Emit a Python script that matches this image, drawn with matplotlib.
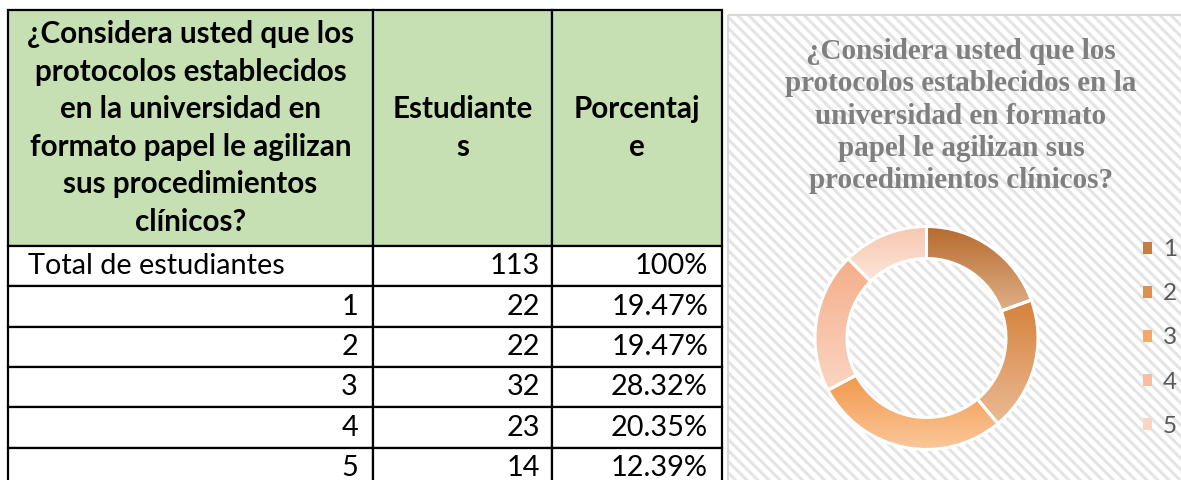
import matplotlib
matplotlib.use("Agg")
import matplotlib.pyplot as plt
import numpy as np
from matplotlib.patches import Rectangle, Patch
from matplotlib.colors import LinearSegmentedColormap

# ---------------- data ----------------
question = ("¿Considera usted que los\nprotocolos establecidos\nen la universidad en\n"
            "formato papel le agilizan\nsus procedimientos\nclínicos?")
col_headers = ["Estudiante\ns", "Porcentaj\ne"]
total_label = "Total de estudiantes"
total_students = 113
categories = ["1", "2", "3", "4", "5"]
students = [22, 22, 32, 23, 14]
chart_title = ("¿Considera usted que los\nprotocolos establecidos en la\n"
               "universidad en formato\npapel le agilizan sus\nprocedimientos clínicos?")
# gradient colours of each ring segment (top -> bottom)
seg_top = ["#b56a2e", "#d6813b", "#f2984a", "#f5ae8a", "#f7c7b0"]
seg_bot = ["#dfb088", "#e9bb94", "#fac79b", "#fad5c3", "#fce5da"]
legend_cols = ["#c37d45", "#dc9052", "#f5a966", "#f7bea3", "#f9d5c4"]

plt.rcParams["hatch.linewidth"] = 2.2

W, H = 1181, 480
fig = plt.figure(figsize=(W / 100, H / 100), dpi=100)
fig.patch.set_facecolor("white")

ax0 = fig.add_axes([0, 0, 1, 1])
ax0.set_xlim(0, W)
ax0.set_ylim(H, 0)
ax0.axis("off")

# ---------------- table ----------------
body_font = "Lato"
cell_text = [[total_label, str(total_students), "100%"]]
for c, s in zip(categories, students):
    cell_text.append([c, str(s), f"{100 * s / total_students:.2f}%"])

col_w = [365, 179, 170]
tbl = ax0.table(cellText=cell_text, colLabels=[question] + col_headers,
                colWidths=col_w, cellLoc="right",
                bbox=[8 / W, (H - 488) / H, 714 / W, 478 / H])
tbl.auto_set_font_size(False)
header_h, row_h = 236, 40.3
pads = [15 / 365, 12 / 179, 14 / 170]
for (r, c), cell in tbl.get_celld().items():
    cell.set_edgecolor("black")
    cell.set_linewidth(1.6)
    t = cell.get_text()
    t.set_fontfamily(body_font)
    t.set_color("black")
    if r == 0:
        cell.set_height(header_h)
        cell.set_facecolor("#c6e0b4")
        t.set_fontweight("bold")
        t.set_fontsize(21.3)
        t.set_linespacing(1.41)
        t.set_horizontalalignment("center")
        cell._loc = "center"
    else:
        cell.set_height(row_h)
        cell.set_facecolor("white")
        t.set_fontsize(20.8)
        cell.PAD = pads[c]
        if r == 1 and c == 0:
            cell._loc = "left"
            t.set_horizontalalignment("left")
            cell.PAD = 20 / 365

# ---------------- chart panel ----------------
px0, py0 = 728, 15
ax0.add_patch(Rectangle((px0, py0), W - px0 + 5, H - py0 + 5, facecolor="white",
                        edgecolor="#e4e4e4", hatch="\\\\\\", linewidth=0, zorder=0.5))
ax0.add_patch(Rectangle((px0, py0), W - px0 + 5, H - py0 + 5, facecolor="none",
                        edgecolor="#d9d9d9", linewidth=1.5, zorder=0.6))

ax0.text(961, 116, chart_title, ha="center", va="center", fontsize=21,
         fontweight="bold", family="Liberation Serif", color="#7f7f7f",
         linespacing=1.24, zorder=2)

# ---------------- donut ----------------
cx, cy, R = 926.5, 338, 111.5
half = 130
axd = fig.add_axes([(cx - half) / W, (H - cy - half) / H, 2 * half / W, 2 * half / H])
wedges, _ = axd.pie(students, startangle=90, counterclock=False,
                    wedgeprops=dict(width=0.287, facecolor="none",
                                    edgecolor="white", linewidth=2.2))
lim = half / R
for w, ct, cb in zip(wedges, seg_top, seg_bot):
    x0, y0, x1, y1 = w.get_path().get_extents().extents
    cmap = LinearSegmentedColormap.from_list("g", [cb, ct])
    grad = np.linspace(0, 1, 256).reshape(-1, 1)
    im = axd.imshow(grad, extent=(x0, x1, y0, y1), origin="lower", cmap=cmap,
                    aspect="auto", zorder=0.5, interpolation="bilinear")
    im.set_clip_path(w)
    w.set_zorder(1)
axd.set_xlim(-lim, lim)
axd.set_ylim(-lim, lim)
axd.set_aspect("equal")
axd.axis("off")
axd.patch.set_alpha(0)

handles = [Patch(facecolor=c, edgecolor="none") for c in legend_cols]
fig.legend(handles, categories, loc="center left",
           bbox_to_anchor=(1121 / W, (H - 338) / H), frameon=False,
           labelcolor="#595959", handlelength=0.38,
           handleheight=0.38, handletextpad=0.45, labelspacing=0.95,
           prop={"family": "Lato", "size": 17.5})

fig.savefig("out.png", dpi=100)
